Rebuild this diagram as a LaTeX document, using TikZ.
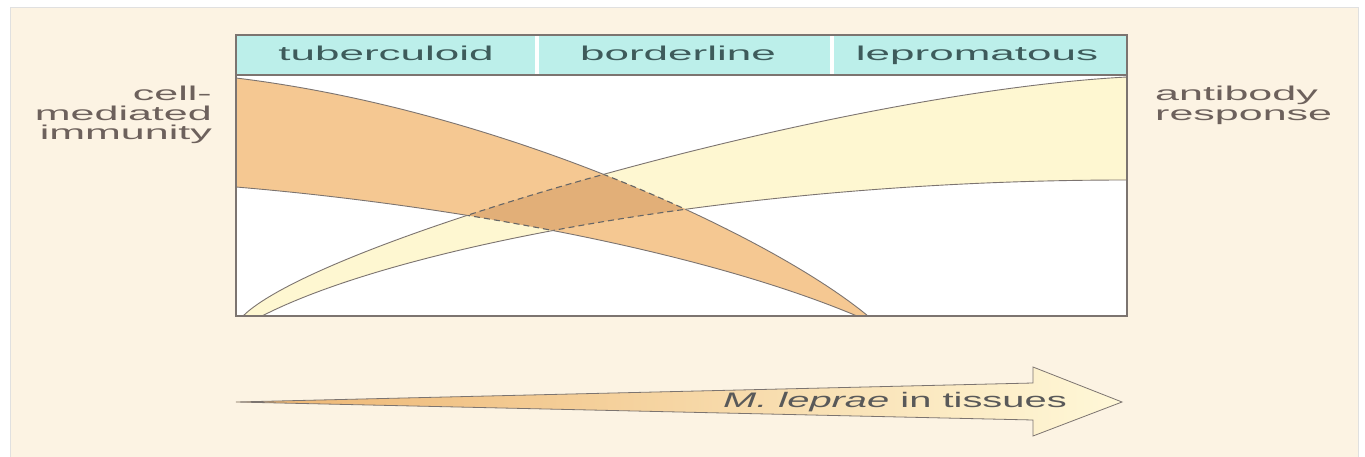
\documentclass[tikz,border=0pt]{standalone}
\usepackage{fontspec}
\setmainfont{Liberation Sans}[FakeStretch=1.9]
\newfontfamily\headfont{Liberation Sans}[FakeStretch=2.2]
\newfontfamily\sidefont{Liberation Sans}[FakeStretch=2.15]

\definecolor{paper}{HTML}{FCF3E3}
\definecolor{header}{HTML}{BCEFEA}
\definecolor{cmifill}{HTML}{F5C892}
\definecolor{overlap}{HTML}{E2AF78}
\definecolor{abfill}{HTML}{FEF7D1}
\definecolor{edge}{HTML}{7C7470}
\definecolor{headtext}{HTML}{3E5B5B}
\definecolor{labeltext}{HTML}{6D615C}
\definecolor{arrowdark}{HTML}{EDB470}
\definecolor{arrowlight}{HTML}{FFF8D8}

% the four curves and the two bands
\newcommand{\cmiTop}{(236,78) .. controls (500,110) and (770,235) .. (868,316)}
\newcommand{\cmiBot}{(236,187) .. controls (450,205) and (700,250) .. (857,316)}
\newcommand{\abTop}{(243,316) .. controls (320,240) and (840,92) .. (1127,77)}
\newcommand{\abBot}{(262,316) .. controls (400,245) and (750,180) .. (1127,180)}
\newcommand{\cmiBand}{\cmiTop -- (857,316) .. controls (700,250) and (450,205) .. (236,187) -- cycle}
\newcommand{\abBand}{\abTop -- (1127,180) .. controls (750,180) and (400,245) .. (262,316) -- cycle}

\tikzset{
  curve/.style={draw=edge, line width=0.9pt},
  dashcurve/.style={draw=black!60, line width=1.1pt, dash pattern=on 6pt off 4pt},
  frame/.style={draw=edge, line width=1.3pt},
  headlabel/.style={font=\headfont\fontsize{20}{24}\selectfont, text=headtext, inner sep=0pt},
  sidelabel/.style={font=\sidefont\fontsize{20}{19.5}\selectfont, text=labeltext, inner sep=0pt}
}

\begin{document}
\begin{tikzpicture}[x=1pt, y=-1pt]
    \useasboundingbox (0,0) rectangle (1365,457);
    \fill[white] (0,0) rectangle (1365,457);
    \fill[paper] (10,7) rectangle (1358,457);
    \draw[black!12] (10,457) -- (10,7) -- (1358,7) -- (1358,457);
    % header row
    \fill[header] (236,35) rectangle (1127,75);
    \draw[white, line width=4pt] (537,36) -- (537,74) (832,36) -- (832,74);
    \node[headlabel, anchor=base] (tub) at (386,61) {tuberculoid};
    \node[headlabel, anchor=base] (bor) at (678,61) {borderline};
    \node[headlabel, anchor=base] (lep) at (977,61) {lepromatous};
    % plot area
    \fill[white] (236,75) rectangle (1127,316);
    \fill[abfill] \abBand;
    \fill[cmifill] \cmiBand;
    \begin{scope}
        \clip \abBand;
        \fill[overlap] \cmiBand;
        \draw[dashcurve] \cmiTop;
        \draw[dashcurve] \cmiBot;
    \end{scope}
    \begin{scope}
        \clip \cmiBand;
        \draw[dashcurve] \abTop;
        \draw[dashcurve] \abBot;
    \end{scope}
    \begin{scope}
        \clip (236,0) -- \cmiTop -- (1365,316) -- (1365,0) -- cycle
              (0,187) -- \cmiBot -- (857,457) -- (0,457) -- cycle;
        \draw[curve] \abTop;
        \draw[curve] \abBot;
    \end{scope}
    \begin{scope}
        \clip (0,0) -- (0,316) -- \abTop -- (1365,77) -- (1365,0) -- cycle
              \abBot -- (1365,180) -- (1365,457) -- (262,457) -- cycle;
        \draw[curve] \cmiTop;
        \draw[curve] \cmiBot;
    \end{scope}
    \draw[frame] (236,35) rectangle (1127,316);
    \draw[frame] (236,75) -- (1127,75);
    % side labels
    \node[sidelabel, align=right, anchor=north east] (cmi) at (212,86) {cell-\\mediated\\immunity};
    \node[sidelabel, align=left, anchor=north west] (ab) at (1155,86) {antibody\\response};
    % arrow
    \shadedraw[left color=arrowdark, right color=arrowlight, draw=edge, line width=0.8pt]
        (236,402) -- (1033,383) -- (1033,367) -- (1122,402) -- (1033,436) -- (1033,420) -- cycle;
    \node[font=\fontsize{21}{24}\selectfont, text=black!65, anchor=base east, inner sep=0pt] (mlep) at (1067,407) {\textit{M. leprae} in tissues};
\end{tikzpicture}
\end{document}
